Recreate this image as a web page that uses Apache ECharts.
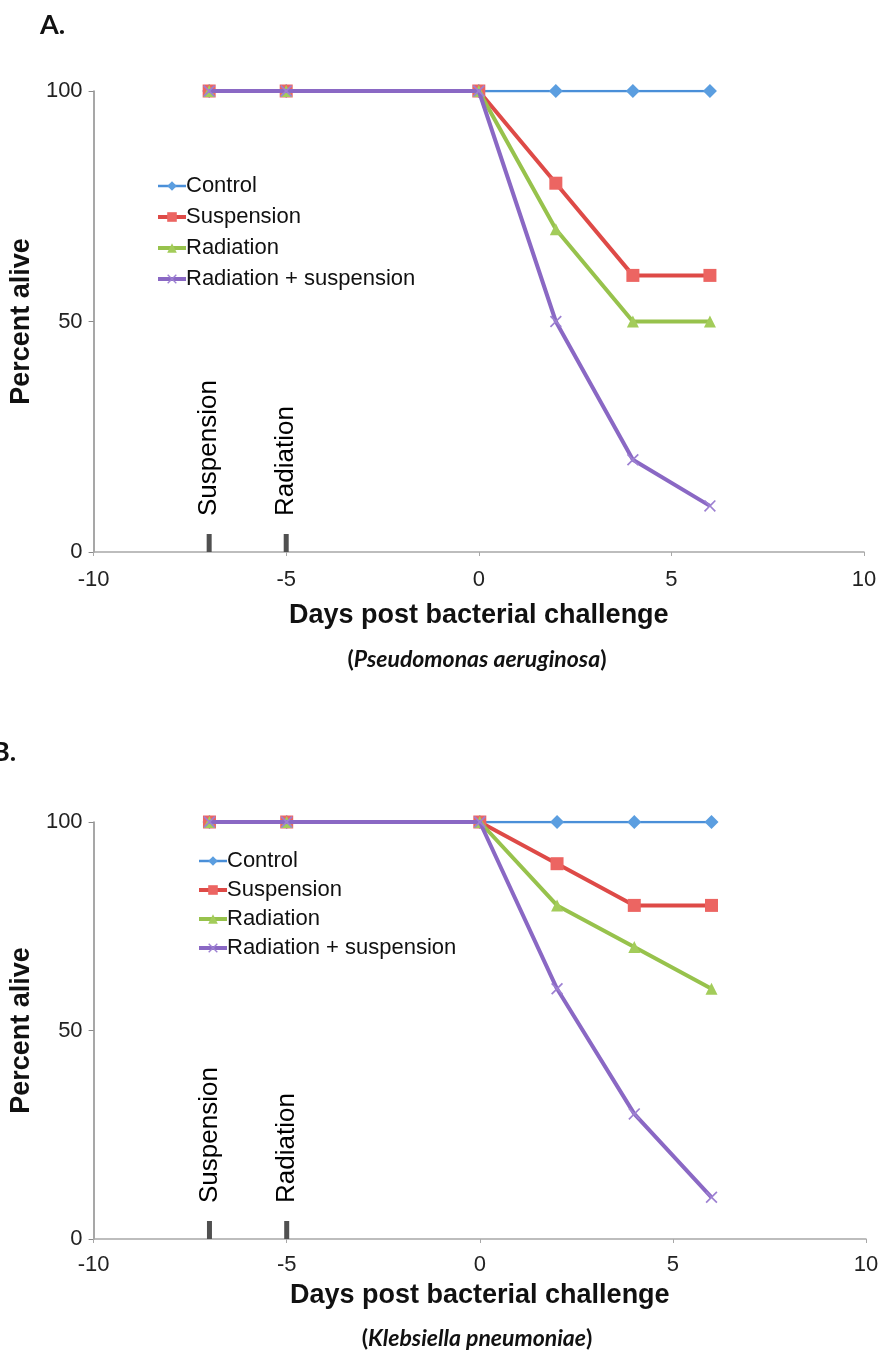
<!DOCTYPE html>
<html>
<head>
<meta charset="utf-8">
<script src="https://cdn.jsdelivr.net/npm/echarts@6/dist/echarts.min.js"></script>
<style>
	html, body { margin: 0; padding: 0; background: #fff; }
	#main { width: 882px; height: 1355px; }
</style>
</head>
<body>
<div id="main"></div>
<script>
	var days = [-7, -5, 0, 2, 4, 6];
	var seriesNames = ['Control', 'Suspension', 'Radiation', 'Radiation + suspension'];

	// A. Pseudomonas aeruginosa
	var controlA = [100, 100, 100, 100, 100, 100];
	var suspensionA = [100, 100, 100, 80, 60, 60];
	var radiationA = [100, 100, 100, 70, 50, 50];
	var radSuspA = [100, 100, 100, 50, 20, 10];

	// B. Klebsiella pneumoniae
	var controlB = [100, 100, 100, 100, 100, 100];
	var suspensionB = [100, 100, 100, 90, 80, 80];
	var radiationB = [100, 100, 100, 80, 70, 60];
	var radSuspB = [100, 100, 100, 60, 30, 10];

	// treatment markers (day, label)
	var eventDays = [-7, -5];
	var eventNames = ['Suspension', 'Radiation'];

	var xTicks = { min: -10, max: 10, interval: 5 };
	var yTicks = { min: 0, max: 100, interval: 50 };

	var FONT = '"Liberation Sans", Arial, sans-serif';
	var colors = ['#4a8fd8', '#de4a47', '#97c24c', '#8a68c4'];
	var markColors = ['#5b9ee0', '#ec6562', '#a3cc5a', '#9d80d2'];
	var symbols = ['diamond', 'rect', 'triangle', 'path://M0,1L1,0L5,4L9,0L10,1L6,5L10,9L9,10L5,6L1,10L0,9L4,5Z'];
	var symbolSizes = [14, 13, 12, 12];
	var lineWidths = [2.5, 4, 4, 4];

	function zip(xs, ys) {
		var out = [];
		for (var i = 0; i < xs.length; i++) out.push([xs[i], ys[i]]);
		return out;
	}

	function lineSeries(idx, values, gridIdx) {
		return {
			name: seriesNames[idx],
			type: 'line',
			xAxisIndex: gridIdx,
			yAxisIndex: gridIdx,
			data: zip(days, values),
			symbol: symbols[idx],
			symbolSize: symbolSizes[idx],
			showAllSymbol: true,
			lineStyle: { color: colors[idx], width: lineWidths[idx] },
			itemStyle: { color: markColors[idx], borderWidth: 0 },
			emphasis: { disabled: true },
			animation: false,
			z: 3 + idx
		};
	}

	function eventSeries(gridIdx) {
		var data = [];
		for (var i = 0; i < eventDays.length; i++) {
			data.push({ name: eventNames[i], value: [eventDays[i], 0] });
		}
		return {
			type: 'scatter',
			xAxisIndex: gridIdx,
			yAxisIndex: gridIdx,
			data: data,
			symbol: 'rect',
			symbolSize: [5, 18],
			symbolOffset: [0, -9],
			itemStyle: { color: '#505050', opacity: 1 },
			label: {
				show: true,
				formatter: '{b}',
				position: 'top',
				distance: 18,
				rotate: 90,
				align: 'left',
				verticalAlign: 'middle',
				fontFamily: FONT,
				fontSize: 26,
				color: '#000',
				opacity: 1,
				textBorderWidth: 0
			},
			emphasis: { disabled: true },
			animation: false,
			silent: true,
			z: 2
		};
	}

	function xAxisOpt(gridIdx, margin, nameGap) {
		return {
			type: 'value',
			gridIndex: gridIdx,
			min: xTicks.min,
			max: xTicks.max,
			interval: xTicks.interval,
			name: 'Days post bacterial challenge',
			nameLocation: 'middle',
			nameGap: nameGap,
			nameTextStyle: { fontFamily: FONT, fontWeight: 'bold', fontSize: 27, color: '#111' },
			axisLine: { show: true, onZero: false, lineStyle: { color: '#a8a8a8', width: 1.5 } },
			axisTick: { show: true, length: 4, lineStyle: { color: '#a8a8a8' } },
			axisLabel: { fontFamily: FONT, fontSize: 22, color: '#222', margin: margin },
			splitLine: { show: false }
		};
	}

	function yAxisOpt(gridIdx) {
		return {
			type: 'value',
			gridIndex: gridIdx,
			min: yTicks.min,
			max: yTicks.max,
			interval: yTicks.interval,
			name: 'Percent alive',
			nameLocation: 'middle',
			nameGap: 47,
			nameTextStyle: { fontFamily: FONT, fontWeight: 'bold', fontSize: 27, color: '#111' },
			axisLine: { show: true, onZero: false, lineStyle: { color: '#8a8a8a', width: 1.5 } },
			axisTick: { show: true, length: 5, lineStyle: { color: '#8a8a8a' } },
			axisLabel: { fontFamily: FONT, fontSize: 22, color: '#222', margin: 11 },
			splitLine: { show: false }
		};
	}

	function legendOpt(left, top, gap, lh) {
		var items = [];
		for (var i = 0; i < seriesNames.length; i++) {
			items.push({ name: seriesNames[i], lineStyle: { width: lineWidths[i] } });
		}
		return {
			orient: 'vertical',
			left: left,
			top: top,
			itemWidth: 28,
			itemHeight: 12,
			itemGap: gap,
			selectedMode: false,
			data: items,
			textStyle: { fontFamily: FONT, fontSize: 22, color: '#111', lineHeight: lh, padding: [0, 0, 0, -5] }
		};
	}

	function caption(species, y) {
		return {
			type: 'text',
			x: 477,
			y: y,
			style: {
				text: '{n|(}{i|' + species + '}{n|)}',
				textAlign: 'center',
				textVerticalAlign: 'middle',
				fill: '#111',
				rich: {
					n: { fontFamily: 'Lato, sans-serif', fontWeight: 'bold', fontSize: 23, fill: '#111' },
					i: { fontFamily: 'Lato, sans-serif', fontWeight: 'bold', fontStyle: 'italic', fontSize: 23, fill: '#111' }
				}
			}
		};
	}

	var chart = echarts.init(document.getElementById('main'), null, { renderer: 'canvas' });

	var option = {
		backgroundColor: '#fff',
		animation: false,
		grid: [
			{ left: 92, top: 91, width: 772, height: 461 },
			{ left: 92, top: 822, width: 774, height: 417 }
		],
		xAxis: [xAxisOpt(0, 17, 50), xAxisOpt(1, 15, 43)],
		yAxis: [yAxisOpt(0), yAxisOpt(1)],
		legend: [
			legendOpt(151, 170, 9, 22),
			legendOpt(192, 845, 7, 22)
		],
		graphic: [
			{ type: 'text', left: 40, top: 12, style: { text: 'A.', font: 'bold 27px Lato, sans-serif', fill: '#111' } },
			{ type: 'text', left: -8, top: 739, style: { text: 'B.', font: 'bold 27px Lato, sans-serif', fill: '#111' } },
			caption('Pseudomonas aeruginosa', 660),
			caption('Klebsiella pneumoniae', 1339)
		],
		series: [
			eventSeries(0),
			lineSeries(0, controlA, 0),
			lineSeries(1, suspensionA, 0),
			lineSeries(2, radiationA, 0),
			lineSeries(3, radSuspA, 0),
			eventSeries(1),
			lineSeries(0, controlB, 1),
			lineSeries(1, suspensionB, 1),
			lineSeries(2, radiationB, 1),
			lineSeries(3, radSuspB, 1)
		]
	};

	chart.setOption(option);
</script>
</body>
</html>
